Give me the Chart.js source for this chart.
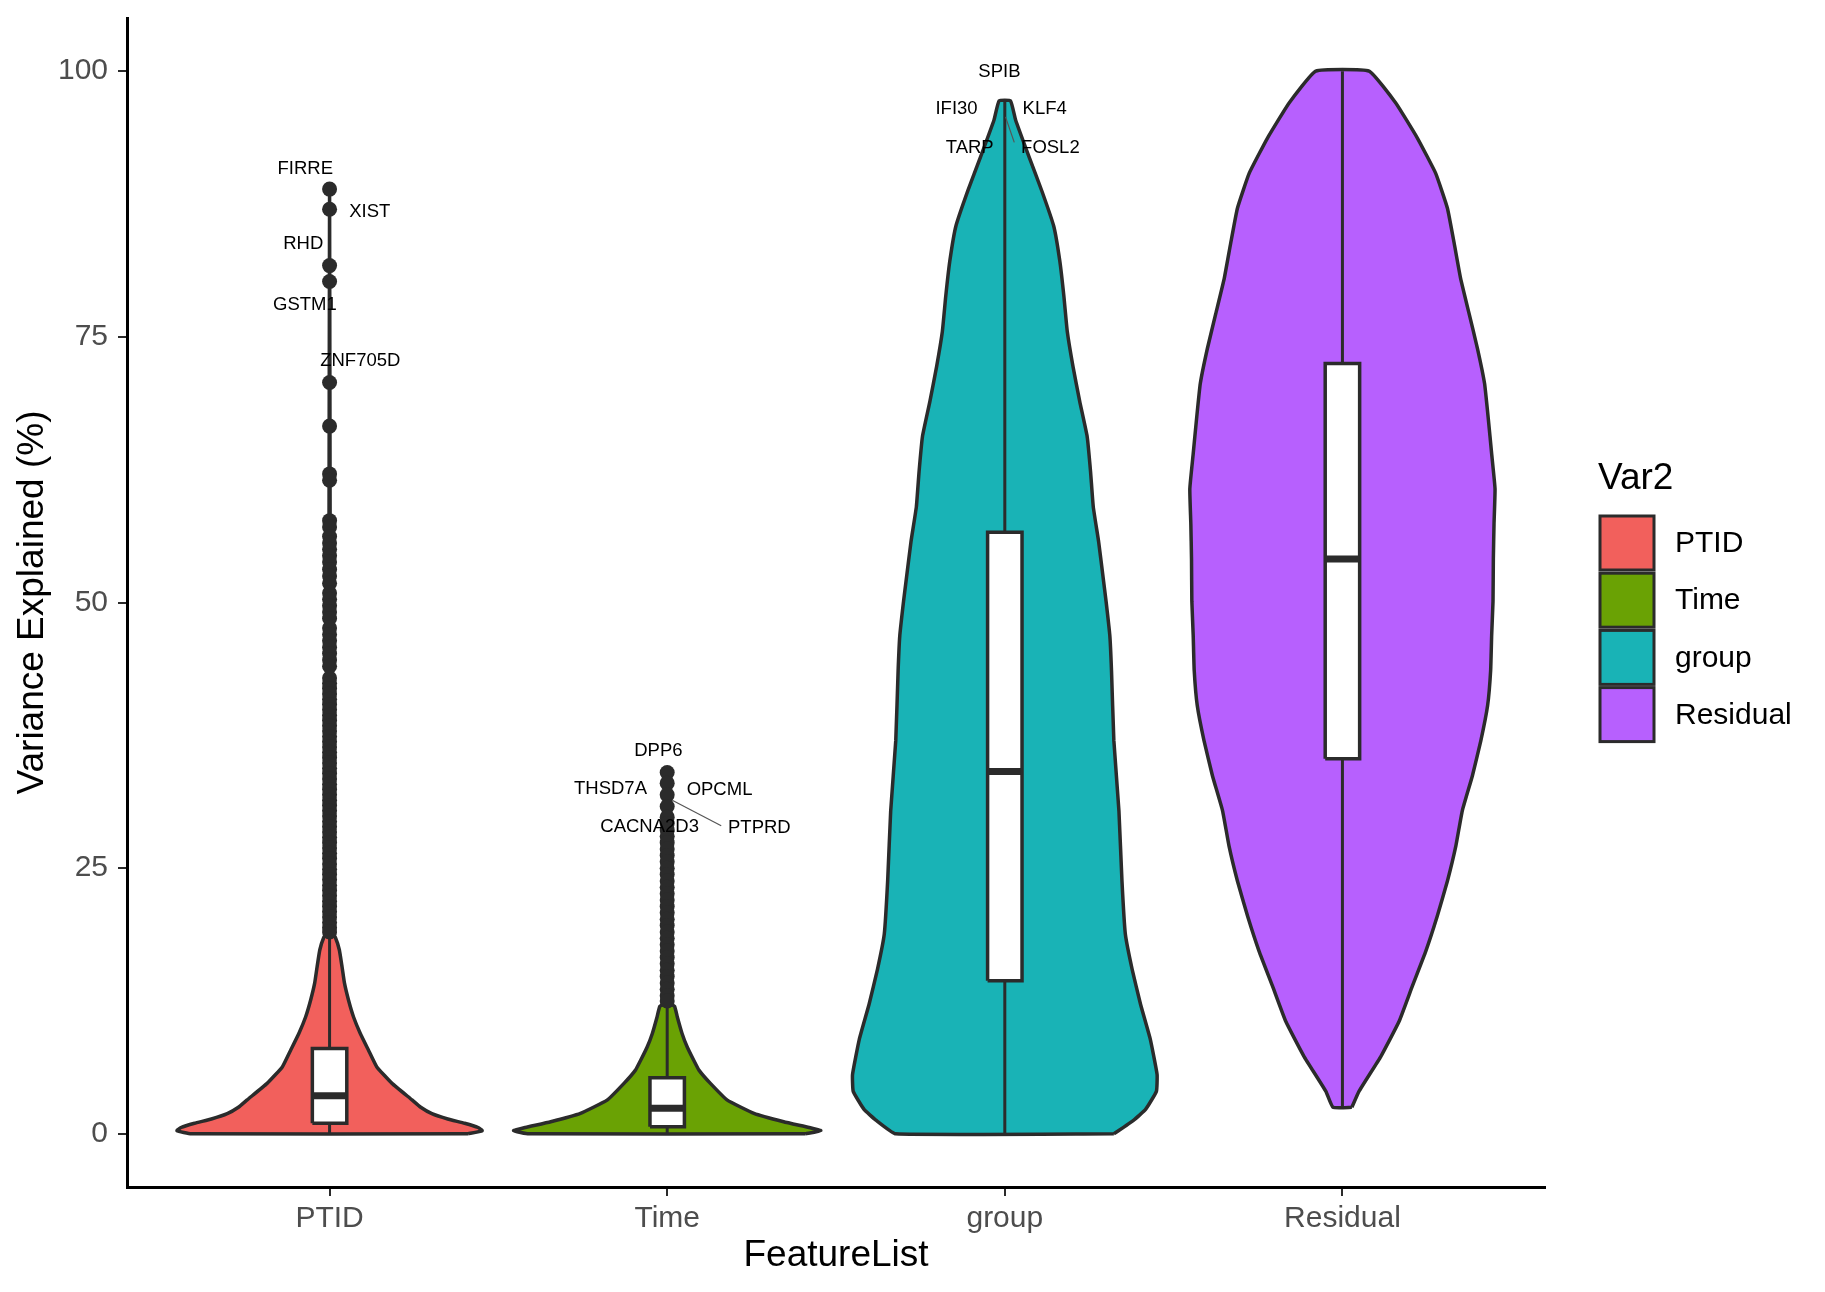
<!DOCTYPE html>
<html>
<head>
<meta charset="utf-8">
<script src="https://cdn.jsdelivr.net/npm/chart.js@4.4.3/dist/chart.umd.min.js"></script>
<style>
  html, body { margin: 0; padding: 0; background: #fff; }
  #wrap { width: 1825px; height: 1292px; }
</style>
</head>
<body>
<div id="wrap"><canvas id="chart" width="1825" height="1292"></canvas></div>
<script>
const categories = ['PTID', 'Time', 'group', 'Residual'];
const fillColors = ['#F2605C', '#6AA204', '#19B3B6', '#B760FE'];
const yTicks = [0, 25, 50, 75, 100];

// violin outlines: value levels (bottom -> top) and half widths in category units
const ptidLevels = [0, 0.3, 0.6, 1.0, 1.4, 1.9, 2.5, 3.2, 4.75, 6.3, 7.9, 9.45, 11.0, 12.6, 14.2, 15.7, 17.3, 18.5, 19.0, 30.0, 50.0, 70.0, 88.9];
const ptidHalf   = [0.41, 0.452, 0.44, 0.40, 0.35, 0.303, 0.27, 0.244, 0.185, 0.14, 0.115, 0.091, 0.071, 0.056, 0.044, 0.037, 0.029, 0.017, 0.006, 0.003, 0.002, 0.001, 0];
const timeLevels = [0, 0.3, 0.6, 1.14, 1.93, 3.18, 4.75, 6.0, 6.9, 8.2, 9.45, 11.0, 12.0, 12.3, 20.0, 34.0];
const timeHalf   = [0.41, 0.455, 0.42, 0.345, 0.257, 0.178, 0.128, 0.094, 0.079, 0.059, 0.044, 0.030, 0.022, 0.008, 0.003, 0];
const groupLevels = [0, 1.3, 2.3, 4.0, 5.6, 8.9, 12.2, 15.5, 18.8, 23.8, 30.4, 37.0, 43.6, 46.9, 50.1, 52.4, 55.7, 59.0, 62.3, 65.6, 68.9, 72.2, 75.5, 78.8, 82.1, 85.4, 88.7, 92.0, 95.4, 97.2];
const groupHalf   = [0.323, 0.382, 0.417, 0.449, 0.451, 0.431, 0.402, 0.377, 0.357, 0.347, 0.338, 0.323, 0.316, 0.311, 0.30, 0.291, 0.278, 0.262, 0.254, 0.244, 0.222, 0.202, 0.185, 0.175, 0.163, 0.145, 0.11, 0.071, 0.032, 0.017];
const residLevels = [2.5, 4.0, 7.3, 10.6, 13.9, 17.2, 20.5, 23.8, 27.1, 30.4, 33.7, 37.0, 40.3, 43.6, 46.9, 50.1, 54.1, 57.4, 60.7, 64.0, 67.3, 70.6, 73.9, 77.2, 80.5, 83.8, 87.1, 90.4, 93.7, 97.0, 100];
const residHalf   = [0.028, 0.049, 0.114, 0.168, 0.207, 0.247, 0.281, 0.311, 0.336, 0.355, 0.385, 0.41, 0.43, 0.439, 0.442, 0.446, 0.447, 0.449, 0.452, 0.442, 0.432, 0.421, 0.40, 0.375, 0.35, 0.331, 0.311, 0.276, 0.222, 0.158, 0.079];

// box stats: lower whisker, Q1, median, Q3, upper whisker
const ptidBox  = [0, 0.99, 3.59, 8.04, 18.6];
const timeBox  = [0, 0.67, 2.4, 5.28, 12.3];
const groupBox = [0, 14.4, 34.1, 56.6, 97.2];
const residBox = [2.5, 35.3, 54.1, 72.5, 100];

const ptidOutliers = [88.9, 87.0, 81.7, 80.2, 70.7, 66.6, 62.1, 61.5, 57.7, 57.1, 56.2, 55.6, 55.0, 54.4, 53.8, 53.1, 52.5, 51.8,
  50.9, 50.3, 49.7, 49.1, 48.5, 47.6, 47.0, 46.4, 45.8, 45.2, 44.6, 44.0, 42.9, 42.4, 41.9, 41.4, 40.9, 40.4, 39.9, 39.4, 38.9,
  38.4, 37.9, 37.4, 36.9, 36.4, 35.9, 35.4, 34.9, 34.4, 33.9, 33.4, 32.9, 32.4, 31.9, 31.4, 30.9, 30.4, 29.9, 29.4, 28.9, 28.4,
  27.9, 27.4, 26.9, 26.4, 25.9, 25.4, 24.9, 24.4, 23.9, 23.4, 22.9, 22.4, 21.9, 21.4, 20.9, 20.4, 19.9, 19.4, 19.0];
const timeOutliers = [34.0, 33.0, 31.9, 30.8, 29.8, 29.2, 28.6, 28.0, 27.4, 26.8, 26.2, 25.6, 25.0, 24.4, 23.8, 23.2, 22.6,
  22.0, 21.4, 20.8, 20.2, 19.6, 19.0, 18.4, 17.8, 17.2, 16.6, 16.0, 15.4, 14.8, 14.2, 13.6, 13.0, 12.5];

// gene labels
const geneNames = ['FIRRE', 'XIST', 'RHD', 'GSTM1', 'ZNF705D', 'DPP6', 'THSD7A', 'OPCML', 'CACNA2D3', 'PTPRD', 'SPIB', 'IFI30', 'KLF4', 'TARP', 'FOSL2'];
const geneX = [0.928, 1.119, 0.922, 0.927, 1.091, 1.974, 1.832, 2.155, 1.948, 2.273, 2.984, 2.857, 3.118, 2.896, 3.135];
const geneY = [90.8, 86.8, 83.7, 78.0, 72.7, 36.0, 32.5, 32.4, 28.9, 28.8, 99.9, 96.4, 96.4, 92.8, 92.8];
// label connector segments [x0, y0, x1, y1]
const segPTPRD = [2.015, 31.4, 2.16, 29.0];
const segFOSL2 = [3.002, 95.7, 3.028, 93.3];

const INK = '#2b2b2b';
const BOX_HALF = 0.051;

function violinPoints(center, levels, half) {
  const right = levels.map((v, i) => ({ x: center + half[i], y: v }));
  const left = levels.map((v, i) => ({ x: center - half[i], y: v })).reverse();
  return right.concat(left, [right[0]]);
}

const violins = [[ptidLevels, ptidHalf], [timeLevels, timeHalf], [groupLevels, groupHalf], [residLevels, residHalf]];
const boxes = [ptidBox, timeBox, groupBox, residBox];
const outliers = [ptidOutliers, timeOutliers, [], []];

const datasets = [];
violins.forEach(([lv, hw], i) => {
  datasets.push({
    data: violinPoints(i + 1, lv, hw), showLine: true, fill: 'shape', tension: 0.12,
    backgroundColor: fillColors[i], borderColor: INK, borderWidth: 3.5, borderJoinStyle: 'round',
    pointRadius: 0, order: 6
  });
});
boxes.forEach((b, i) => {
  const c = i + 1;
  const line = { showLine: true, fill: false, borderColor: INK, borderWidth: 3, pointRadius: 0, order: 4 };
  datasets.push(Object.assign({ data: [{ x: c, y: b[0] }, { x: c, y: b[1] }] }, line));
  datasets.push(Object.assign({ data: [{ x: c, y: b[3] }, { x: c, y: b[4] }] }, line));
  datasets.push({
    data: [{ x: c - BOX_HALF, y: b[1] }, { x: c + BOX_HALF, y: b[1] }, { x: c + BOX_HALF, y: b[3] }, { x: c - BOX_HALF, y: b[3] }, { x: c - BOX_HALF, y: b[1] }],
    showLine: true, fill: 'shape', backgroundColor: '#ffffff', borderColor: INK, borderWidth: 3.5, pointRadius: 0, order: 3
  });
  datasets.push({
    data: [{ x: c - BOX_HALF, y: b[2] }, { x: c + BOX_HALF, y: b[2] }],
    showLine: true, fill: false, borderColor: INK, borderWidth: 7, pointRadius: 0, order: 2
  });
});
outliers.forEach((vals, i) => {
  if (!vals.length) return;
  datasets.push({
    data: vals.map(v => ({ x: i + 1, y: v })), showLine: false,
    pointRadius: 7.5, pointBackgroundColor: INK, pointBorderWidth: 0, order: 1
  });
});
[segPTPRD, segFOSL2].forEach(s => {
  datasets.push({
    data: [{ x: s[0], y: s[1] }, { x: s[2], y: s[3] }],
    showLine: true, fill: false, borderColor: '#555555', borderWidth: 1.2, pointRadius: 0, order: 0
  });
});

const FONT = '"Liberation Sans", Arial, Helvetica, sans-serif';

const labelPlugin = {
  id: 'geneLabels',
  afterDatasetsDraw(chart) {
    const { ctx, scales: { x, y } } = chart;
    ctx.save();
    ctx.font = '18.5px ' + FONT;
    ctx.fillStyle = '#000';
    ctx.textAlign = 'center';
    ctx.textBaseline = 'middle';
    geneNames.forEach((n, i) => ctx.fillText(n, x.getPixelForValue(geneX[i]), y.getPixelForValue(geneY[i])));
    ctx.restore();
  }
};

const legendPlugin = {
  id: 'sideLegend',
  afterDraw(chart) {
    const ctx = chart.ctx;
    ctx.save();
    ctx.fillStyle = '#000';
    ctx.textBaseline = 'middle';
    ctx.textAlign = 'left';
    ctx.font = '37px ' + FONT;
    ctx.fillText('Var2', 1598, 479);
    ctx.font = '30px ' + FONT;
    categories.forEach((c, i) => {
      const top = 515 + i * 57.2;
      ctx.fillStyle = fillColors[i];
      ctx.fillRect(1600, top + 1, 54, 54);
      ctx.strokeStyle = INK;
      ctx.lineWidth = 3;
      ctx.strokeRect(1600, top + 1, 54, 54);
      ctx.fillStyle = '#000';
      ctx.fillText(c, 1675, top + 29);
    });
    ctx.restore();
  }
};

new Chart(document.getElementById('chart'), {
  type: 'scatter',
  data: { datasets },
  plugins: [labelPlugin, legendPlugin],
  options: {
    responsive: false,
    devicePixelRatio: 1,
    animation: false,
    events: [],
    layout: { autoPadding: false, padding: { top: 18, right: 280, bottom: 0, left: 0 } },
    plugins: { legend: { display: false }, tooltip: { enabled: false } },
    scales: {
      x: {
        type: 'linear', min: 0.4, max: 4.6,
        afterBuildTicks: s => { s.ticks = categories.map((_, i) => ({ value: i + 1 })); },
        afterFit: s => { s.height = 105; s.paddingLeft = 0; s.paddingRight = 0; },
        ticks: {
          autoSkip: false, maxRotation: 0, padding: 5, color: '#4D4D4D',
          font: { family: FONT, size: 30 },
          callback: v => categories[Math.round(v) - 1]
        },
        grid: { drawOnChartArea: false, drawTicks: true, tickLength: 9, color: INK, lineWidth: 2 },
        border: { display: true, color: '#000', width: 3 },
        title: { display: true, text: 'FeatureList', color: '#000', font: { family: FONT, size: 37 }, padding: { top: 0, bottom: 14 } }
      },
      y: {
        type: 'linear', min: -5, max: 105,
        afterBuildTicks: s => { s.ticks = yTicks.map(v => ({ value: v })); },
        afterFit: s => { s.width = 127; s.paddingTop = 0; s.paddingBottom = 0; },
        ticks: { padding: 10, color: '#4D4D4D', font: { family: FONT, size: 30 } },
        grid: { drawOnChartArea: false, drawTicks: true, tickLength: 9, color: INK, lineWidth: 2 },
        border: { display: true, color: '#000', width: 3 },
        title: { display: true, text: 'Variance Explained (%)', color: '#000', font: { family: FONT, size: 37 }, padding: { top: 11, bottom: 0 } }
      }
    }
  }
});
</script>
</body>
</html>
